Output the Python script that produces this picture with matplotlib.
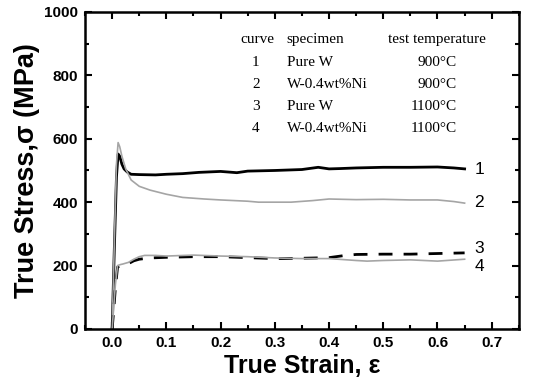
import matplotlib
matplotlib.use('Agg')
import matplotlib.pyplot as plt
from matplotlib.ticker import MultipleLocator

plt.rcParams['font.family'] = ['Liberation Sans', 'DejaVu Sans']

# 曲线数据 (应变, 应力 MPa)
strain1 = [0.0, 0.004, 0.008, 0.011, 0.014, 0.018, 0.022, 0.028, 0.035, 0.05, 0.08, 0.1, 0.13, 0.16,
           0.2, 0.23, 0.25, 0.3, 0.35, 0.38, 0.4, 0.42, 0.45, 0.5, 0.55, 0.6, 0.63, 0.65]
stress1 = [0, 250, 480, 552, 545, 520, 505, 495, 488, 487, 486, 488, 490, 494,
           497, 493, 498, 500, 503, 510, 505, 506, 508, 510, 510, 511, 508, 505]

strain2 = [0.0, 0.004, 0.008, 0.011, 0.014, 0.018, 0.025, 0.035, 0.05, 0.07, 0.1, 0.13, 0.17,
           0.2, 0.25, 0.27, 0.3, 0.33, 0.37, 0.4, 0.45, 0.5, 0.55, 0.6, 0.63, 0.65]
stress2 = [0, 270, 520, 588, 575, 545, 505, 470, 450, 438, 425, 415, 410,
           407, 403, 400, 400, 400, 405, 410, 408, 409, 407, 407, 402, 397]

strain3 = [0.0, 0.003, 0.006, 0.01, 0.015, 0.02, 0.03, 0.04, 0.05, 0.07, 0.1, 0.15, 0.2,
           0.25, 0.3, 0.35, 0.4, 0.43, 0.45, 0.5, 0.55, 0.6, 0.65]
stress3 = [0, 60, 130, 195, 200, 202, 206, 215, 220, 224, 226, 228, 228,
           225, 222, 223, 225, 232, 235, 236, 236, 238, 240]

strain4 = [0.0, 0.003, 0.006, 0.01, 0.015, 0.02, 0.03, 0.04, 0.05, 0.06, 0.08, 0.1, 0.15, 0.2,
           0.25, 0.3, 0.35, 0.4, 0.45, 0.47, 0.5, 0.55, 0.6, 0.65]
stress4 = [0, 70, 140, 200, 203, 205, 210, 220, 228, 232, 232, 230, 233, 230,
           228, 224, 222, 222, 216, 214, 216, 218, 214, 220]

curve_labels = ['1', '2', '3', '4']
label_y = [503, 398, 255, 196]

# 表格文字
table_header = ['curve', 'specimen', 'test temperature']
table_curve = ['1', '2', '3', '4']
table_specimen = ['Pure W', 'W-0.4wt%Ni', 'Pure W', 'W-0.4wt%Ni']
table_temp = ['900°C', '900°C', '1100°C', '1100°C']

fig = plt.figure(figsize=(5.45, 3.87), dpi=100)
ax = fig.add_axes([0.156, 0.150, 0.796, 0.819])

ax.plot(strain1, stress1, color='black', lw=2.0)
ax.plot(strain2, stress2, color='#a5a5a5', lw=1.2)
ax.plot(strain3, stress3, color='black', lw=2.0, dashes=(5, 4))
ax.plot(strain4, stress4, color='#a5a5a5', lw=1.2)

for lab, y in zip(curve_labels, label_y):
    ax.text(0.668, y, lab, fontsize=12.5, ha='left', va='center')

# 表格
serif = ['Liberation Serif', 'DejaVu Serif']
fs = 11
row_y = [912, 842, 772, 702, 632]
ax.text(0.267, row_y[0], table_header[0], family=serif, fontsize=fs, ha='center', va='center')
ax.text(0.322, row_y[0], table_header[1], family=serif, fontsize=fs, ha='left', va='center')
ax.text(0.509, row_y[0], table_header[2], family=serif, fontsize=fs, ha='left', va='center')
for i in range(4):
    y = row_y[i + 1]
    ax.text(0.265, y, table_curve[i], family=serif, fontsize=fs, ha='center', va='center')
    ax.text(0.322, y, table_specimen[i], family=serif, fontsize=fs, ha='left', va='center')
    ax.text(0.636, y, table_temp[i], family=serif, fontsize=fs, ha='right', va='center')

ax.set_xlim(-0.05, 0.75)
ax.set_ylim(0, 1000)
ax.xaxis.set_major_locator(MultipleLocator(0.1))
ax.xaxis.set_minor_locator(MultipleLocator(0.05))
ax.yaxis.set_major_locator(MultipleLocator(200))
ax.yaxis.set_minor_locator(MultipleLocator(100))
ax.tick_params(which='both', direction='in', top=True, right=True, width=1.5)
ax.tick_params(which='major', length=5, labelsize=11, pad=5)
ax.tick_params(which='minor', length=3)
ax.set_xticklabels([f'{v:.1f}' for v in ax.get_xticks()], fontweight='bold')
for lbl in ax.get_yticklabels():
    lbl.set_fontweight('bold')
ax.set_xlim(-0.05, 0.75)

for sp in ax.spines.values():
    sp.set_linewidth(1.8)

ax.set_xlabel('True Strain, ε', fontsize=18, fontweight='bold', labelpad=3)
ax.set_ylabel('True Stress,σ (MPa)', fontsize=19.5, fontweight='bold', labelpad=3)

fig.savefig('out.png', dpi=100)
